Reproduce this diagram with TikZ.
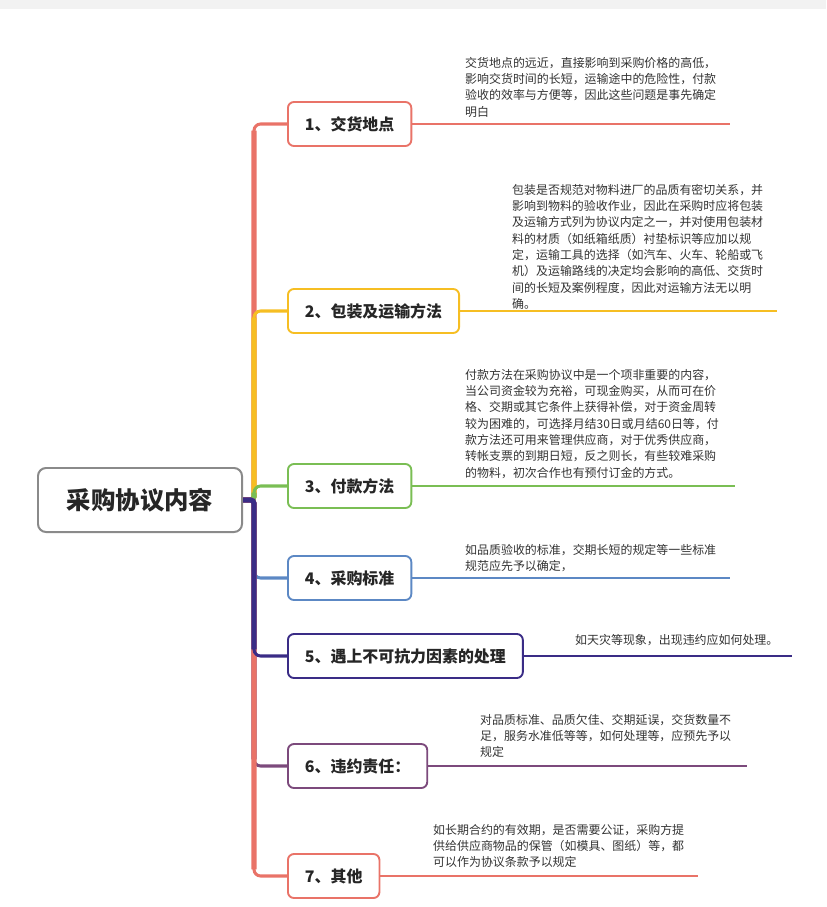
\documentclass[tikz,border=0pt]{standalone}
\usepackage{fontspec}
\setmainfont{Noto Sans CJK SC}
\usetikzlibrary{calc}
\definecolor{BrRed}{RGB}{233,115,104}
\definecolor{BrGold}{RGB}{246,190,35}
\definecolor{BrGreen}{RGB}{122,190,84}
\definecolor{BrBlue}{RGB}{92,136,196}
\definecolor{BrNavy}{RGB}{58,44,134}
\definecolor{BrPlum}{RGB}{124,74,124}
\definecolor{RootGray}{RGB}{138,138,138}
\definecolor{NoteText}{RGB}{51,51,51}
\definecolor{TopBand}{RGB}{242,242,242}
\tikzset{
  root/.style={draw=RootGray,fill=white,line width=1.7pt,rounded corners=0.24cm,
    minimum width=6.12cm,minimum height=1.92cm,
    font=\fontsize{20.8}{24}\selectfont\bfseries,text=black!85},
  topic/.style={draw=#1,fill=white,line width=1.6pt,rounded corners=0.18cm,
    minimum height=1.32cm,inner xsep=0.51cm,anchor=west,
    font=\fontsize{13.6}{16}\selectfont\bfseries,text=black!85},
  note/.style={anchor=north west,inner sep=0pt,align=left,text=NoteText,
    font=\fontsize{10.2}{13.9}\selectfont},
  trunk/.style={draw=#1,line width=4.3pt,rounded corners=0.1cm},
  twig/.style={draw=#1,line width=2.6pt,rounded corners=0.2cm},
  leaf/.style={draw=#1,line width=2pt},
}
\begin{document}
\begin{tikzpicture}[x=0.03cm,y=-0.03cm]
\useasboundingbox (0,0) rectangle (826,907);
\fill[TopBand] (0,0) rectangle (826,9);
\node[root] (root) at (140,500) {采购协议内容};
\coordinate (tr) at (254,0);
\node[topic=BrRed] (k1) at (287,124) {1、交货地点};
\node[topic=BrGold] (k2) at (287,311) {2、包装及运输方法};
\node[topic=BrGreen] (k3) at (287,486) {3、付款方法};
\node[topic=BrBlue] (k4) at (287,578) {4、采购标准};
\node[topic=BrNavy] (k5) at (287,656) {5、遇上不可抗力因素的处理};
\node[topic=BrPlum] (k6) at (287,766) {6、违约责任：};
\node[topic=BrRed] (k7) at (287,876) {7、其他};
% branches from the root
\foreach \i/\c in {1/BrRed,2/BrGold,3/BrGreen,4/BrBlue,6/BrPlum,7/BrRed,5/BrNavy}{
  \draw[trunk=\c] (root.east) -- (root.east -| tr) -- ($(tr |- k\i.west)!0.2cm!(root.east -| tr)$);
  \draw[twig=\c] ($(tr |- k\i.west)!0.25cm!(root.east -| tr)$) |- (k\i.west);
}
% lines under the notes
\foreach \i/\c/\x in {1/BrRed/730,2/BrGold/777,3/BrGreen/735,4/BrBlue/730,5/BrNavy/792,6/BrPlum/747,7/BrRed/698}{
  \coordinate (e\i) at (\x,0);
  \draw[leaf=\c] (k\i.east) -- (k\i.east -| e\i);
}
\node[note] (n1) at (465,57) {交货地点的远近，直接影响到采购价格的高低，\\
影响交货时间的长短，运输途中的危险性，付款\\
验收的效率与方便等，因此这些问题是事先确定\\
明白};
\node[note] (n2) at (512,184) {包装是否规范对物料进厂的品质有密切关系，并\\
影响到物料的验收作业，因此在采购时应将包装\\
及运输方式列为协议内定之一，并对使用包装材\\
料的材质（如纸箱纸质）衬垫标识等应加以规\\
定，运输工具的选择（如汽车、火车、轮船或飞\\
机）及运输路线的决定均会影响的高低、交货时\\
间的长短及案例程度，因此对运输方法无以明\\
确。};
\node[note] (n3) at (465,369) {付款方法在采购协议中是一个项非重要的内容，\\
当公司资金较为充裕，可现金购买，从而可在价\\
格、交期或其它条件上获得补偿，对于资金周转\\
较为困难的，可选择月结30日或月结60日等，付\\
款方法还可用来管理供应商，对于优秀供应商，\\
转帐支票的到期日短，反之则长，有些较难采购\\
的物料，初次合作也有预付订金的方式。};
\node[note] (n4) at (465,544) {如品质验收的标准，交期长短的规定等一些标准\\
规范应先予以确定，};
\node[note] (n5) at (575,634) {如天灾等现象，出现违约应如何处理。};
\node[note] (n6) at (480,714) {对品质标准、品质欠佳、交期延误，交货数量不\\
足，服务水准低等等，如何处理等，应预先予以\\
规定};
\node[note] (n7) at (433,824) {如长期合约的有效期，是否需要公证，采购方提\\
供给供应商物品的保管（如模具、图纸）等，都\\
可以作为协议条款予以规定};
\end{tikzpicture}
\end{document}
